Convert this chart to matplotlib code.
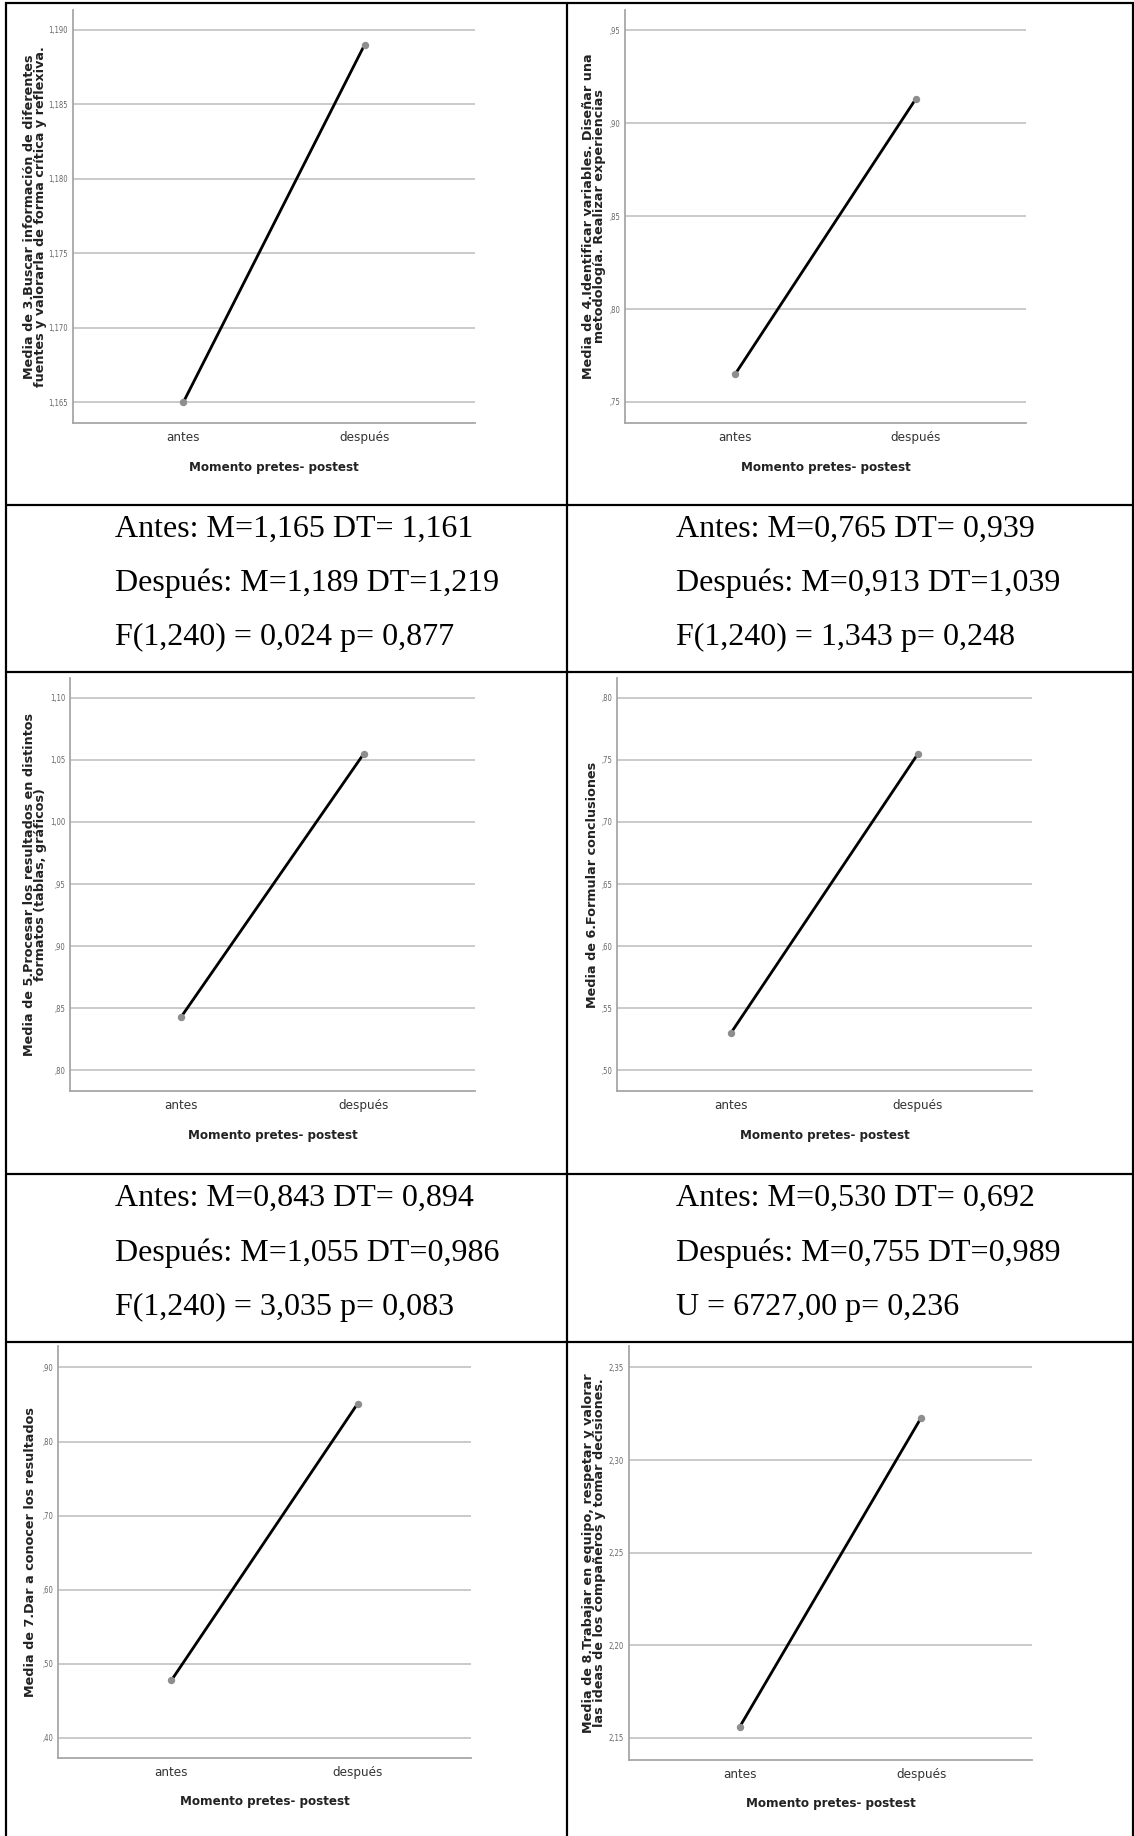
import os

import matplotlib
matplotlib.use("Agg")
import matplotlib.pyplot as plt
from matplotlib.lines import Line2D
from matplotlib import font_manager

W, H = 1134, 1836
DPI = 100
PT = 72 / DPI  # points per pixel

momentos = ["antes", "después"]

medias_3 = [1.165, 1.189]
medias_4 = [0.765, 0.913]
medias_5 = [0.843, 1.055]
medias_6 = [0.530, 0.755]
medias_7 = [0.478, 0.851]
medias_8 = [2.156, 2.323]

ticks_3 = [1.165, 1.170, 1.175, 1.180, 1.185, 1.190]
ticks_4 = [0.75, 0.80, 0.85, 0.90, 0.95]
ticks_5 = [0.80, 0.85, 0.90, 0.95, 1.00, 1.05, 1.10]
ticks_6 = [0.50, 0.55, 0.60, 0.65, 0.70, 0.75, 0.80]
ticks_7 = [0.40, 0.50, 0.60, 0.70, 0.80, 0.90]
ticks_8 = [2.15, 2.20, 2.25, 2.30, 2.35]

etiqueta_3 = "Media de 3.Buscar información de diferentes\nfuentes y valorarla de forma crítica y reflexiva."
etiqueta_4 = "Media de 4.Identificar variables. Diseñar una\nmetodología. Realizar experiencias"
etiqueta_5 = "Media de 5.Procesar los resultados en distintos\nformatos (tablas, gráficos)"
etiqueta_6 = "Media de 6.Formular conclusiones"
etiqueta_7 = "Media de 7.Dar a conocer los resultados"
etiqueta_8 = "Media de 8.Trabajar en equipo, respetar y valorar\nlas ideas de los compañeros y tomar decisiones."

eje_x = "Momento pretes- postest"

resumen_3 = ["Antes: M=1,165 DT= 1,161", "Después: M=1,189 DT=1,219", "F(1,240) = 0,024 p= 0,877"]
resumen_4 = ["Antes: M=0,765 DT= 0,939", "Después: M=0,913 DT=1,039", "F(1,240) = 1,343 p= 0,248"]
resumen_5 = ["Antes: M=0,843 DT= 0,894", "Después: M=1,055 DT=0,986", "F(1,240) = 3,035 p= 0,083"]
resumen_6 = ["Antes: M=0,530 DT= 0,692", "Después: M=0,755 DT=0,989", "U = 6727,00 p= 0,236"]


def narrow_font(bold=False):
    """Pick a narrow/condensed sans face if one is installed."""
    files = {os.path.basename(f.fname): f.fname for f in font_manager.fontManager.ttflist}
    if bold:
        wanted = ["LiberationSansNarrow-Bold.ttf", "DejaVuSansCondensed-Bold.ttf"]
    else:
        wanted = ["LiberationSansNarrow-Regular.ttf", "DejaVuSansCondensed.ttf"]
    for name in wanted:
        if name in files:
            return font_manager.FontProperties(fname=files[name])
    return font_manager.FontProperties(family="Liberation Sans",
                                       weight="bold" if bold else "normal")


FP_NARROW = narrow_font()
FP_NARROW_BOLD = narrow_font(bold=True)


def fmt_spss(v, dec):
    s = f"{v:.{dec}f}".replace(".", ",")
    if s.startswith("0,"):
        s = s[1:]
    return s


def px_box(left, top, right, bottom):
    return [left / W, 1 - bottom / H, (right - left) / W, (bottom - top) / H]


def font(fp, size):
    f = fp.copy()
    f.set_size(size)
    return f


def line_chart(fig, box, medias, ticks, ylim, dec, etiqueta, label_x):
    ax = fig.add_axes(px_box(*box))
    ax.set_facecolor("white")
    for t in ticks:
        ax.axhline(t, color="#c6c6c6", lw=1.8 * PT, zorder=1)
    x = range(len(momentos))
    ax.plot(x, medias, color="black", lw=2.8 * PT, zorder=3,
            marker="o", markersize=6 * PT, markerfacecolor="#8e8e8e",
            markeredgecolor="#8e8e8e", solid_capstyle="round")
    ax.set_xlim(-0.61, 1.61)
    ax.set_ylim(*ylim)
    ax.set_xticks(list(x))
    ax.set_xticklabels(momentos, fontproperties=font(FP_NARROW, 9.5), color="#333333")
    ax.set_yticks(ticks)
    ax.set_yticklabels([fmt_spss(t, dec) for t in ticks],
                       fontproperties=font(FP_NARROW, 5.5), color="#666666")
    ax.tick_params(axis="x", length=0, pad=6)
    ax.tick_params(axis="y", length=0, pad=3.5)
    for side in ("top", "right"):
        ax.spines[side].set_visible(False)
    for side in ("left", "bottom"):
        ax.spines[side].set_color("#a6a6a6")
        ax.spines[side].set_linewidth(1.8 * PT)
    ax.annotate(eje_x, xy=(0.5, 0), xycoords="axes fraction",
                xytext=(0, -44 * PT), textcoords="offset points",
                ha="center", va="center", fontproperties=font(FP_NARROW_BOLD, 9.5),
                color="#222222")
    ax.annotate(etiqueta, xy=(0, 0.5), xycoords="axes fraction",
                xytext=((label_x - box[0]) * PT, 0), textcoords="offset points",
                rotation=90, ha="center", va="center", multialignment="center",
                fontfamily="DejaVu Sans", fontsize=9.2, fontweight="bold",
                linespacing=0.85, color="#222222")
    return ax


def resumen(fig, lines, x0, baselines):
    for txt, yb in zip(lines, baselines):
        fig.text(x0 / W, 1 - yb / H, txt, fontfamily="Liberation Serif",
                 fontsize=23, color="black", ha="left", va="baseline")


fig = plt.figure(figsize=(W / DPI, H / DPI), dpi=DPI)
fig.patch.set_facecolor("white")

line_chart(fig, (73, 10, 475, 423), medias_3, ticks_3, (1.16359, 1.19134), 3, etiqueta_3, 35)
line_chart(fig, (625, 10, 1026, 423), medias_4, ticks_4, (0.7387, 0.9608), 2, etiqueta_4, 594)
line_chart(fig, (70, 678, 475, 1091), medias_5, ticks_5, (0.7831, 1.1161), 2, etiqueta_5, 35)
line_chart(fig, (617, 678, 1032, 1091), medias_6, ticks_6, (0.4831, 0.8161), 2, etiqueta_6, 592)
line_chart(fig, (58, 1346, 471, 1758), medias_7, ticks_7, (0.373, 0.929), 2, etiqueta_7, 31)
line_chart(fig, (629, 1346, 1032, 1760), medias_8, ticks_8, (2.1381, 2.3616), 2, etiqueta_8, 594)

resumen(fig, resumen_3, 115, [536.5, 591.5, 645.5])
resumen(fig, resumen_4, 676, [536.5, 591.5, 645.5])
resumen(fig, resumen_5, 115, [1205.5, 1260.5, 1314.5])
resumen(fig, resumen_6, 676, [1205.5, 1260.5, 1314.5])

# table rules
borde = dict(color="black", lw=2.2 * PT, solid_capstyle="butt")
for xv in (6, 567, 1133):
    fig.add_artist(Line2D([xv / W, xv / W], [1 - 2 / H, 0], **borde))
for yh in (3, 505, 672, 1174, 1342):
    fig.add_artist(Line2D([5 / W, 1], [1 - yh / H, 1 - yh / H], **borde))

fig.savefig("out.png", dpi=DPI, facecolor="white")
